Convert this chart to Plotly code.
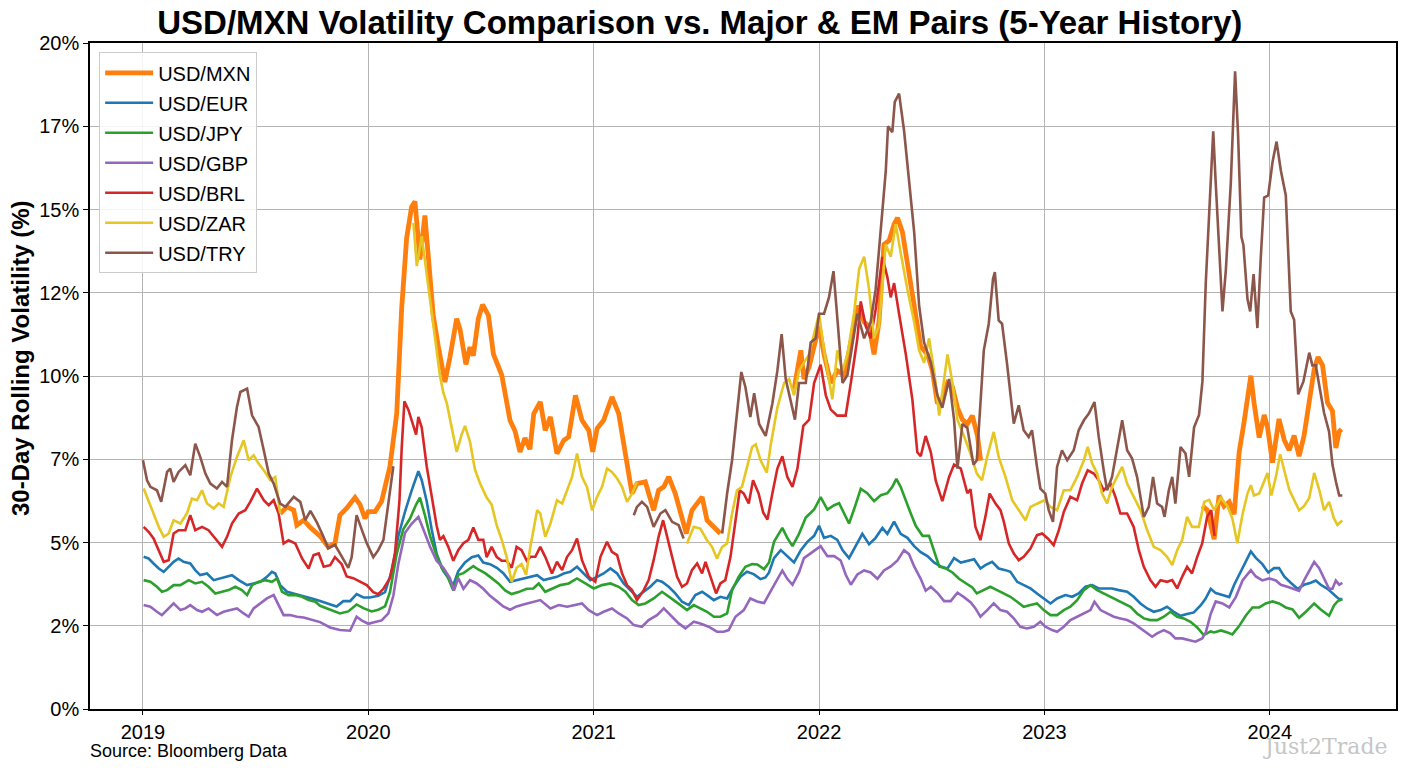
import plotly.graph_objects as go

N = None  # gap marker

# ---------------- data (decimal years, volatility %) ----------------
mxn_t = [2019.609, 2019.639, 2019.669, 2019.683, 2019.713, 2019.743, 2019.786, 2019.822, 2019.852, 2019.874,
         2019.904, 2019.941, 2019.963, 2019.985, 2020.0, 2020.030, 2020.059, 2020.096, 2020.126, 2020.148,
         2020.170, 2020.192, 2020.207, 2020.229, 2020.251, 2020.266, 2020.288, 2020.311, 2020.340, 2020.362,
         2020.392, 2020.407, 2020.433, 2020.451, 2020.466, 2020.488, 2020.507, 2020.533, 2020.555, 2020.592,
         2020.629, 2020.651, 2020.673, 2020.695, 2020.717, 2020.734, 2020.763, 2020.785, 2020.808, 2020.837,
         2020.867, 2020.889, 2020.919, 2020.948, 2020.978, 2020.996, 2021.015, 2021.044, 2021.081, 2021.111,
         2021.141, 2021.170, 2021.192, 2021.229, 2021.266, 2021.288, 2021.311, 2021.333, 2021.362, 2021.385,
         2021.411, 2021.436, 2021.459, 2021.481, 2021.503, 2021.533, 2021.562,
         2021.70,
         2021.889, 2021.904, 2021.919, 2021.933, 2021.956, 2021.978, 2022.0, 2022.022, 2022.052, 2022.081,
         2022.111, 2022.141, 2022.170, 2022.2, 2022.222, 2022.244, 2022.266, 2022.288, 2022.311, 2022.333,
         2022.348, 2022.370, 2022.399, 2022.429, 2022.451, 2022.481, 2022.503, 2022.525, 2022.547, 2022.570,
         2022.592, 2022.614, 2022.636, 2022.658, 2022.680, 2022.703, 2022.717,
         2023.2,
         2023.700, 2023.723, 2023.753, 2023.775, 2023.797, 2023.820, 2023.842, 2023.864, 2023.885, 2023.916,
         2023.930, 2023.953, 2023.975, 2023.990, 2024.012, 2024.041, 2024.064, 2024.086, 2024.108, 2024.130,
         2024.152, 2024.175, 2024.197, 2024.214, 2024.234, 2024.256, 2024.278, 2024.293, 2024.308, 2024.318]
mxn_v = [5.87, 6.07, 5.97, 5.52, 5.67, 5.45, 5.19, 4.87, 4.98, 5.82,
         6.03, 6.35, 6.14, 5.72, 5.93, 5.93, 6.24, 7.29, 8.87, 12.03,
         14.14, 15.08, 15.24, 13.5, 14.82, 13.61, 11.82, 10.87, 9.82, 10.56,
         11.72, 11.4, 10.35, 10.87, 10.61, 11.72, 12.14, 11.82, 10.66, 10.03,
         8.66, 8.35, 7.72, 8.14, 7.8, 8.87, 9.22, 8.37, 8.77, 7.67,
         8.07, 8.17, 9.42, 8.67, 8.37, 7.72, 8.42, 8.67, 9.37, 8.87,
         7.67, 6.47, 6.77, 6.82, 5.97, 6.57, 6.67, 6.97, 6.47, 5.87,
         5.27, 5.97, 6.17, 6.37, 5.67, 5.47, 5.27,
         N,
         9.6, 10.3, 10.77, 9.91, 10.28, 10.89, 11.5, 10.65, 9.79, 10.16,
         10.03, 11.01, 12.11, 11.62, 11.5, 10.65, 11.62, 13.95, 14.07, 14.56,
         14.75, 14.32, 13.09, 11.87, 10.89, 10.65, 10.16, 9.18, 9.3, 9.79,
         9.67, 9.05, 8.69, 8.56, 8.81, 8.2, 7.46,
         N,
         6.1, 5.97, 5.1, 6.41, 6.09, 6.22, 5.85, 7.71, 8.58, 10.01,
         9.2, 8.15, 8.83, 8.46, 7.4, 8.71, 8.08, 7.77, 8.21, 7.59,
         8.21, 9.2, 10.2, 10.57, 10.32, 9.2, 8.95, 7.84, 8.33, 8.4]

eur_t = [2019.003, 2019.025, 2019.047, 2019.070, 2019.092, 2019.114, 2019.136, 2019.158, 2019.180, 2019.210,
         2019.232, 2019.254, 2019.284, 2019.314, 2019.343, 2019.373, 2019.395, 2019.425, 2019.462, 2019.491,
         2019.521, 2019.550, 2019.572, 2019.587, 2019.609, 2019.639, 2019.669, 2019.698, 2019.728, 2019.757,
         2019.786, 2019.830, 2019.859, 2019.889, 2019.919, 2019.948, 2019.978, 2020.007, 2020.044, 2020.074,
         2020.104, 2020.133, 2020.163, 2020.192, 2020.212, 2020.222, 2020.237, 2020.259, 2020.281, 2020.303,
         2020.333, 2020.355, 2020.377, 2020.399, 2020.429, 2020.459, 2020.488, 2020.510, 2020.540, 2020.570,
         2020.599, 2020.629, 2020.658, 2020.688, 2020.719, 2020.749, 2020.778, 2020.808, 2020.837, 2020.867,
         2020.896, 2020.926, 2020.956, 2020.985, 2021.015, 2021.044, 2021.074, 2021.104, 2021.133, 2021.163,
         2021.192, 2021.222, 2021.251, 2021.281, 2021.303, 2021.333, 2021.362, 2021.392, 2021.422, 2021.451,
         2021.481, 2021.503, 2021.533, 2021.562, 2021.592, 2021.621, 2021.651, 2021.680, 2021.710, 2021.740,
         2021.762, 2021.778, 2021.800, 2021.830, 2021.859, 2021.889, 2021.919, 2021.948, 2021.978, 2022.0,
         2022.022, 2022.052, 2022.081, 2022.104, 2022.133, 2022.163, 2022.192, 2022.222, 2022.251, 2022.281,
         2022.303, 2022.333, 2022.362, 2022.392, 2022.422, 2022.451, 2022.481, 2022.510, 2022.540, 2022.570,
         2022.599, 2022.629, 2022.658, 2022.688, 2022.716, 2022.738, 2022.768, 2022.797, 2022.827, 2022.849,
         2022.879, 2022.908, 2022.938, 2022.967, 2022.997, 2023.027, 2023.056, 2023.093, 2023.123, 2023.152,
         2023.182, 2023.212, 2023.241, 2023.271, 2023.300, 2023.330, 2023.367, 2023.396, 2023.426, 2023.456,
         2023.485, 2023.515, 2023.544, 2023.574, 2023.604, 2023.633, 2023.663, 2023.692, 2023.714, 2023.738,
         2023.760, 2023.790, 2023.820, 2023.842, 2023.864, 2023.886, 2023.916, 2023.938, 2023.967, 2023.993,
         2024.019, 2024.041, 2024.064, 2024.093, 2024.123, 2024.152, 2024.182, 2024.204, 2024.226, 2024.256,
         2024.285, 2024.308, 2024.322]
eur_v = [4.57, 4.52, 4.37, 4.22, 4.12, 4.27, 4.42, 4.52, 4.42, 4.37,
         4.17, 4.02, 4.07, 3.87, 3.92, 3.97, 4.02, 3.87, 3.72, 3.77,
         3.82, 3.97, 4.12, 4.07, 3.72, 3.52, 3.47, 3.42, 3.37, 3.3,
         3.24, 3.14, 3.08, 3.24, 3.24, 3.45, 3.35, 3.35, 3.4, 3.51,
         4.14, 5.19, 5.93, 6.56, 6.98, 7.14, 6.87, 6.24, 5.4, 4.66,
         4.14, 3.93, 3.72, 4.14, 4.4, 4.56, 4.61, 4.4, 4.35, 4.24,
         4.08, 3.82, 3.87, 3.93, 3.97, 4.02, 3.87, 3.92, 3.97, 4.07,
         4.12, 4.27, 4.07, 3.87, 3.97, 4.07, 4.22, 4.07, 3.77, 3.57,
         3.37, 3.52, 3.67, 3.87, 3.82, 3.67, 3.47, 3.22, 3.12, 3.42,
         3.52, 3.42, 3.27, 3.37, 3.32, 3.67, 3.97, 4.12, 4.05, 3.9,
         3.95, 4.1, 4.53, 4.77, 4.59, 4.4, 4.77, 5.02, 5.2, 5.5,
         5.14, 5.2, 5.08, 4.77, 4.53, 4.89, 5.26, 4.95, 5.14, 5.44,
         5.26, 5.63, 5.26, 5.14, 4.89, 4.71, 4.59, 4.4, 4.28, 4.22,
         4.53, 4.4, 4.46, 4.5, 4.22, 4.32, 4.42, 4.22, 4.17, 4.12,
         3.82, 3.72, 3.62, 3.47, 3.32, 3.17, 3.32, 3.42, 3.37, 3.47,
         3.67, 3.72, 3.62, 3.62, 3.62, 3.57, 3.52, 3.37, 3.17, 3.02,
         2.92, 2.97, 3.07, 2.92, 2.8, 2.85, 2.9, 3.1, 3.3, 3.61,
         3.48, 3.42, 3.36, 3.73, 4.04, 4.35, 4.73, 4.54, 4.35, 4.1,
         4.23, 4.23, 3.98, 3.79, 3.61, 3.73, 3.79, 3.86, 3.73, 3.61,
         3.42, 3.3, 3.3]

jpy_t = [2019.003, 2019.033, 2019.062, 2019.084, 2019.107, 2019.136, 2019.166, 2019.203, 2019.232, 2019.262,
         2019.291, 2019.321, 2019.351, 2019.380, 2019.410, 2019.439, 2019.462, 2019.484, 2019.513, 2019.543,
         2019.572, 2019.595, 2019.617, 2019.646, 2019.676, 2019.706, 2019.735, 2019.765, 2019.786, 2019.830,
         2019.874, 2019.911, 2019.948, 2019.978, 2020.015, 2020.044, 2020.074, 2020.096, 2020.126, 2020.155,
         2020.185, 2020.212, 2020.229, 2020.251, 2020.274, 2020.300, 2020.325, 2020.348, 2020.377, 2020.399,
         2020.422, 2020.444, 2020.466, 2020.488, 2020.518, 2020.547, 2020.577, 2020.607, 2020.636, 2020.666,
         2020.703, 2020.732, 2020.756, 2020.785, 2020.815, 2020.852, 2020.889, 2020.926, 2020.963, 2021.0,
         2021.037, 2021.074, 2021.111, 2021.141, 2021.170, 2021.200, 2021.229, 2021.266, 2021.303, 2021.325,
         2021.355, 2021.385, 2021.414, 2021.444, 2021.473, 2021.503, 2021.533, 2021.562, 2021.592, 2021.614,
         2021.643, 2021.673, 2021.703, 2021.726, 2021.756, 2021.778, 2021.800, 2021.837, 2021.859, 2021.882,
         2021.911, 2021.941, 2021.978, 2022.007, 2022.037, 2022.067, 2022.089, 2022.111, 2022.133, 2022.155,
         2022.185, 2022.214, 2022.244, 2022.274, 2022.303, 2022.325, 2022.343, 2022.362, 2022.385, 2022.407,
         2022.429, 2022.459, 2022.488, 2022.510, 2022.533, 2022.562, 2022.592, 2022.621, 2022.651, 2022.680,
         2022.70, 2022.731, 2022.760, 2022.790, 2022.820, 2022.849, 2022.879, 2022.908, 2022.938, 2022.967,
         2022.997, 2023.027, 2023.056, 2023.086, 2023.115, 2023.145, 2023.175, 2023.204, 2023.234, 2023.263,
         2023.293, 2023.322, 2023.352, 2023.382, 2023.411, 2023.441, 2023.470, 2023.500, 2023.530, 2023.559,
         2023.589, 2023.618, 2023.648, 2023.678, 2023.707, 2023.737, 2023.753, 2023.783, 2023.812, 2023.834,
         2023.864, 2023.893, 2023.923, 2023.953, 2023.982, 2024.012, 2024.041, 2024.071, 2024.101, 2024.130,
         2024.160, 2024.197, 2024.226, 2024.263, 2024.285, 2024.300, 2024.322]
jpy_v = [3.87, 3.82, 3.67, 3.52, 3.57, 3.72, 3.72, 3.87, 3.77, 3.82,
         3.67, 3.47, 3.52, 3.57, 3.67, 3.57, 3.42, 3.72, 3.82, 3.87,
         3.82, 3.92, 3.52, 3.42, 3.42, 3.37, 3.27, 3.22, 3.1, 2.98,
         2.87, 2.93, 3.14, 3.03, 2.93, 2.98, 3.08, 3.51, 4.66, 5.4,
         5.72, 6.14, 6.35, 5.82, 5.19, 4.66, 4.24, 4.03, 3.56, 4.03,
         4.08, 4.19, 4.29, 4.19, 4.08, 3.93, 3.77, 3.56, 3.45, 3.51,
         3.61, 3.62, 3.77, 3.52, 3.62, 3.72, 3.77, 3.92, 3.77, 3.62,
         3.72, 3.77, 3.67, 3.52, 3.27, 3.12, 3.17, 3.32, 3.52, 3.42,
         3.27, 3.12, 2.97, 3.12, 3.02, 2.92, 2.77, 2.77, 2.87, 3.57,
         3.97, 4.27, 4.35, 4.34, 4.2, 4.4, 5.02, 5.44, 5.14, 4.89,
         5.26, 5.75, 5.99, 6.36, 5.99, 6.12, 6.18, 5.87, 5.57, 5.99,
         6.61, 6.48, 6.24, 6.42, 6.48, 6.67, 6.91, 6.67, 6.24, 5.87,
         5.5, 5.2, 5.2, 4.77, 4.28, 4.22, 4.1, 3.91, 3.79, 3.65,
         3.47, 3.57, 3.67, 3.57, 3.47, 3.37, 3.22, 3.07, 3.12, 3.17,
         2.97, 2.82, 2.82, 2.97, 3.07, 3.27, 3.57, 3.72, 3.57, 3.47,
         3.37, 3.27, 3.17, 3.07, 2.87, 2.72, 2.67, 2.67, 2.77, 2.92,
         2.77, 2.72, 2.62, 2.45, 2.22, 2.33, 2.3, 2.36, 2.3, 2.24,
         2.49, 2.8, 3.05, 3.05, 3.17, 3.23, 3.17, 3.05, 2.99, 2.74,
         2.92, 3.17, 2.99, 2.8, 3.11, 3.23, 3.3]

gbp_t = [2019.003, 2019.033, 2019.062, 2019.084, 2019.114, 2019.136, 2019.166, 2019.188, 2019.210, 2019.240,
         2019.262, 2019.291, 2019.328, 2019.358, 2019.388, 2019.417, 2019.447, 2019.469, 2019.491, 2019.521,
         2019.550, 2019.580, 2019.602, 2019.624, 2019.654, 2019.683, 2019.713, 2019.743, 2019.786, 2019.830,
         2019.874, 2019.919, 2019.948, 2019.970, 2020.0, 2020.030, 2020.059, 2020.089, 2020.111, 2020.133,
         2020.163, 2020.192, 2020.222, 2020.244, 2020.274, 2020.303, 2020.333, 2020.362, 2020.380, 2020.399,
         2020.422, 2020.451, 2020.481, 2020.510, 2020.540, 2020.570, 2020.599, 2020.629, 2020.658, 2020.688,
         2020.719, 2020.763, 2020.808, 2020.845, 2020.882, 2020.919, 2020.948, 2020.978, 2021.015, 2021.044,
         2021.081, 2021.111, 2021.148, 2021.178, 2021.214, 2021.244, 2021.281, 2021.311, 2021.340, 2021.377,
         2021.407, 2021.444, 2021.473, 2021.510, 2021.547, 2021.577, 2021.599, 2021.629, 2021.666, 2021.695,
         2021.725, 2021.756, 2021.786, 2021.815, 2021.837, 2021.859, 2021.882, 2021.911, 2021.933, 2021.970,
         2022.007, 2022.037, 2022.067, 2022.096, 2022.118, 2022.141, 2022.170, 2022.200, 2022.229, 2022.259,
         2022.288, 2022.318, 2022.348, 2022.377, 2022.399, 2022.422, 2022.451, 2022.473, 2022.496, 2022.525,
         2022.555, 2022.584, 2022.614, 2022.643, 2022.673, 2022.694, 2022.716, 2022.746, 2022.775, 2022.805,
         2022.834, 2022.864, 2022.893, 2022.923, 2022.953, 2022.982, 2023.004, 2023.034, 2023.056, 2023.086,
         2023.115, 2023.145, 2023.175, 2023.204, 2023.222, 2023.249, 2023.278, 2023.308, 2023.337, 2023.367,
         2023.396, 2023.426, 2023.456, 2023.478, 2023.500, 2023.530, 2023.559, 2023.581, 2023.611, 2023.641,
         2023.670, 2023.700, 2023.716, 2023.738, 2023.760, 2023.790, 2023.820, 2023.849, 2023.879, 2023.916,
         2023.938, 2023.967, 2023.997, 2024.027, 2024.049, 2024.078, 2024.108, 2024.130, 2024.152, 2024.175,
         2024.197, 2024.219, 2024.241, 2024.263, 2024.278, 2024.293, 2024.308, 2024.322]
gbp_v = [3.12, 3.07, 2.92, 2.82, 3.02, 3.17, 2.97, 3.02, 3.12, 2.97,
         2.92, 3.02, 2.82, 2.92, 2.97, 3.02, 2.87, 2.77, 3.02, 3.17,
         3.32, 3.42, 3.12, 2.82, 2.82, 2.77, 2.75, 2.7, 2.61, 2.45,
         2.37, 2.35, 2.77, 2.66, 2.56, 2.61, 2.66, 2.87, 3.4, 4.35,
         5.29, 5.56, 5.77, 5.4, 4.87, 4.45, 4.24, 3.93, 3.56, 3.93,
         3.61, 3.87, 3.77, 3.61, 3.4, 3.24, 3.08, 2.98, 3.08, 3.14,
         3.2, 3.27, 3.02, 3.12, 3.07, 3.12, 3.17, 2.97, 2.82, 2.92,
         3.02, 2.87, 2.72, 2.52, 2.47, 2.67, 2.82, 3.02, 2.82, 2.57,
         2.42, 2.62, 2.57, 2.47, 2.32, 2.32, 2.37, 2.77, 2.97, 3.32,
         3.23, 3.18, 3.55, 3.91, 4.16, 3.91, 3.73, 4.1, 4.53, 4.71,
         4.89, 4.59, 4.59, 4.46, 4.04, 3.73, 4.04, 4.16, 4.1, 3.91,
         4.16, 4.28, 4.46, 4.77, 4.65, 4.28, 3.91, 3.55, 3.67, 3.49,
         3.24, 3.24, 3.49, 3.36, 3.2, 3.02, 2.77, 2.97, 3.17, 2.97,
         2.92, 2.72, 2.47, 2.42, 2.47, 2.62, 2.47, 2.37, 2.32, 2.47,
         2.67, 2.77, 2.87, 2.97, 3.22, 2.97, 2.87, 2.77, 2.72, 2.67,
         2.57, 2.42, 2.27, 2.17, 2.27, 2.37, 2.27, 2.12, 2.12, 2.07,
         2.02, 2.12, 2.3, 2.86, 3.23, 3.17, 3.05, 3.36, 3.86, 4.17,
         3.98, 3.86, 3.92, 3.86, 3.73, 3.67, 3.61, 3.55, 3.86, 4.17,
         4.42, 4.23, 3.92, 3.61, 3.61, 3.86, 3.73, 3.79]

brl_t = [2019.003, 2019.025, 2019.047, 2019.070, 2019.092, 2019.114, 2019.136, 2019.158, 2019.188, 2019.210,
         2019.232, 2019.262, 2019.291, 2019.321, 2019.351, 2019.373, 2019.395, 2019.425, 2019.454, 2019.476,
         2019.506, 2019.536, 2019.558, 2019.580, 2019.602, 2019.624, 2019.646, 2019.676, 2019.706, 2019.735,
         2019.757, 2019.780, 2019.802, 2019.831, 2019.852, 2019.882, 2019.904, 2019.933, 2019.963, 2019.993,
         2020.022, 2020.044, 2020.067, 2020.096, 2020.118, 2020.138, 2020.148, 2020.160, 2020.178, 2020.200,
         2020.212, 2020.222, 2020.237, 2020.259, 2020.281, 2020.303, 2020.318, 2020.333, 2020.355, 2020.377,
         2020.399, 2020.422, 2020.444, 2020.466, 2020.488, 2020.510, 2020.525, 2020.547, 2020.570, 2020.592,
         2020.614, 2020.636, 2020.658, 2020.680, 2020.703, 2020.719, 2020.741, 2020.763, 2020.785, 2020.815,
         2020.837, 2020.860, 2020.882, 2020.904, 2020.926, 2020.948, 2020.978, 2021.007, 2021.030, 2021.059,
         2021.081, 2021.104, 2021.126, 2021.148, 2021.170, 2021.192, 2021.222, 2021.244, 2021.266, 2021.288,
         2021.308, 2021.325, 2021.348, 2021.370, 2021.392, 2021.414, 2021.436, 2021.459, 2021.481, 2021.496,
         2021.525, 2021.543, 2021.562, 2021.584, 2021.607, 2021.629, 2021.648, 2021.666, 2021.688, 2021.707,
         2021.732, 2021.752, 2021.771, 2021.793, 2021.815, 2021.837, 2021.859, 2021.882, 2021.904, 2021.930,
         2021.956, 2021.978, 2022.007, 2022.030, 2022.052, 2022.081, 2022.118, 2022.141, 2022.170, 2022.185,
         2022.207, 2022.229, 2022.251, 2022.281, 2022.303, 2022.318, 2022.333, 2022.355, 2022.385, 2022.414,
         2022.436, 2022.451, 2022.473, 2022.496, 2022.518, 2022.547, 2022.577, 2022.599, 2022.629, 2022.658,
         2022.672, 2022.694, 2022.716, 2022.738, 2022.757, 2022.783, 2022.805, 2022.820, 2022.842, 2022.864,
         2022.886, 2022.908, 2022.938, 2022.967, 2022.990, 2023.015, 2023.041, 2023.064, 2023.086, 2023.115,
         2023.145, 2023.167, 2023.192, 2023.219, 2023.241, 2023.263, 2023.293, 2023.315, 2023.337, 2023.367,
         2023.396, 2023.419, 2023.441, 2023.470, 2023.493, 2023.515, 2023.544, 2023.567, 2023.589, 2023.611,
         2023.633, 2023.655, 2023.678, 2023.700, 2023.722, 2023.740, 2023.755]
brl_v = [5.47, 5.32, 5.12, 4.77, 4.42, 4.47, 5.27, 5.37, 5.37, 5.82,
         5.37, 5.47, 5.37, 5.12, 4.87, 5.17, 5.57, 5.87, 5.97, 6.22,
         6.62, 6.27, 6.12, 6.27, 5.87, 4.97, 5.07, 4.97, 4.52, 4.22,
         4.62, 4.67, 4.27, 4.32, 4.56, 4.35, 3.98, 3.93, 3.82, 3.72,
         3.51, 3.45, 3.61, 3.93, 4.66, 6.24, 7.82, 9.24, 8.98, 8.45,
         8.24, 8.77, 8.45, 7.29, 6.35, 5.51, 5.08, 5.19, 4.87, 4.45,
         4.77, 4.98, 5.08, 5.45, 5.08, 5.08, 4.56, 4.87, 4.56, 4.45,
         4.45, 4.24, 4.87, 4.77, 4.45, 4.57, 4.57, 4.87, 4.57, 4.07,
         4.42, 4.17, 4.57, 4.77, 5.12, 4.47, 3.97, 3.82, 4.57, 5.02,
         4.72, 4.62, 4.07, 3.72, 3.57, 3.27, 3.57, 3.87, 4.47, 5.17,
         5.67, 5.17, 4.57, 3.97, 3.67, 3.77, 4.17, 4.37, 4.07, 4.42,
         3.87, 3.47, 3.77, 3.87, 4.57, 5.67, 6.57, 6.47, 6.17, 6.87,
         6.47, 5.9, 5.69, 6.48, 7.22, 7.59, 6.97, 6.67, 7.22, 8.5,
         8.69, 9.79, 10.34, 9.42, 8.99, 8.81, 8.81, 9.79, 11.13, 12.24,
         11.5, 11.13, 11.99, 13.58, 12.97, 12.36, 12.79, 11.87, 10.65, 9.3,
         7.71, 7.59, 8.2, 7.71, 6.85, 6.24, 6.97, 7.34, 7.22, 6.48,
         6.6, 5.47, 5.07, 5.77, 6.47, 6.17, 5.97, 5.62, 4.97, 4.67,
         4.47, 4.57, 4.82, 5.22, 5.27, 5.12, 4.92, 5.37, 5.92, 6.37,
         6.27, 6.77, 7.17, 7.07, 6.87, 6.57, 6.77, 6.37, 5.87, 5.87,
         5.47, 4.77, 4.27, 3.87, 3.67, 3.87, 3.82, 3.87, 3.62, 3.97,
         4.27, 4.07, 4.57, 4.97, 5.77, 5.97, 5.2]

zar_t = [2019.003, 2019.025, 2019.047, 2019.070, 2019.092, 2019.114, 2019.136, 2019.166, 2019.195, 2019.217,
         2019.240, 2019.262, 2019.284, 2019.314, 2019.336, 2019.358, 2019.388, 2019.417, 2019.447, 2019.469,
         2019.491, 2019.513, 2019.536, 2019.565, 2019.587, 2019.609,
         2019.9,
         2020.200, 2020.215, 2020.237, 2020.260, 2020.290, 2020.318, 2020.333, 2020.348, 2020.370, 2020.392,
         2020.414, 2020.429, 2020.451, 2020.473, 2020.496, 2020.525, 2020.547, 2020.570, 2020.592, 2020.614,
         2020.636, 2020.658, 2020.680, 2020.700, 2020.719, 2020.749, 2020.763, 2020.785, 2020.808, 2020.837,
         2020.860, 2020.882, 2020.904, 2020.926, 2020.948, 2020.970, 2020.993, 2021.015, 2021.037, 2021.059,
         2021.081, 2021.104, 2021.126, 2021.148, 2021.170, 2021.192,
         2021.30,
         2021.414, 2021.444, 2021.473, 2021.503, 2021.525, 2021.547, 2021.570, 2021.592, 2021.614, 2021.636,
         2021.658, 2021.680, 2021.703, 2021.719, 2021.741, 2021.768, 2021.786, 2021.815, 2021.845, 2021.867,
         2021.889, 2021.911, 2021.933, 2021.956, 2021.978, 2022.0, 2022.022, 2022.044, 2022.059, 2022.081,
         2022.104, 2022.126, 2022.155, 2022.178, 2022.2, 2022.222, 2022.244, 2022.266, 2022.296, 2022.318,
         2022.340, 2022.362, 2022.392, 2022.422, 2022.444, 2022.466, 2022.488, 2022.510, 2022.533, 2022.555,
         2022.570, 2022.592, 2022.614, 2022.643, 2022.673, 2022.70, 2022.723, 2022.746, 2022.775, 2022.797,
         2022.827, 2022.857, 2022.886, 2022.916, 2022.938, 2022.967, 2023.0, 2023.027, 2023.056, 2023.086,
         2023.115, 2023.145, 2023.175, 2023.192, 2023.212, 2023.234, 2023.256, 2023.278, 2023.300, 2023.322,
         2023.345, 2023.367, 2023.396, 2023.426, 2023.456, 2023.485, 2023.515, 2023.544, 2023.567, 2023.589,
         2023.611, 2023.633, 2023.655, 2023.685, 2023.709, 2023.731, 2023.753, 2023.783, 2023.812, 2023.834,
         2023.856, 2023.879, 2023.901, 2023.916, 2023.930, 2023.953, 2023.975, 2023.990, 2024.007, 2024.027,
         2024.046, 2024.064, 2024.086, 2024.108, 2024.130, 2024.152, 2024.175, 2024.197, 2024.219, 2024.241,
         2024.263, 2024.285, 2024.300, 2024.322]
zar_v = [6.62, 6.27, 5.87, 5.47, 5.17, 5.27, 5.67, 5.57, 5.87, 6.32,
         6.27, 6.57, 6.17, 6.02, 6.17, 6.07, 6.97, 7.57, 8.07, 7.47,
         7.62, 7.37, 7.17, 6.87, 6.97, 5.87,
         N,
         14.6, 13.3, 14.2, 13.0, 11.3, 10.0, 9.5, 9.19, 8.45, 7.72,
         8.24, 8.5, 8.03, 7.19, 6.77, 6.35, 6.14, 5.51, 5.08, 4.56,
         3.82, 4.24, 4.35, 4.03, 4.87, 5.97, 5.87, 5.17, 5.57, 6.27,
         6.17, 6.57, 6.97, 7.67, 6.97, 6.67, 5.97, 6.37, 6.67, 7.22,
         7.12, 6.92, 6.67, 6.22, 6.47, 6.82,
         N,
         4.97, 5.47, 5.42, 5.07, 4.87, 4.52, 4.87, 4.97, 5.87, 6.57,
         6.67, 7.27, 7.87, 7.95, 7.46, 7.1, 7.95, 9.05, 9.79, 9.91,
         9.42, 10.16, 10.4, 10.65, 11.26, 11.87, 10.77, 9.91, 9.3, 10.77,
         10.16, 10.65, 11.87, 13.22, 13.58, 12.6, 11.13, 11.5, 13.95, 13.58,
         14.56, 13.71, 12.6, 11.62, 10.77, 10.4, 11.13, 10.16, 8.81, 9.91,
         10.65, 9.79, 8.69, 8.2, 7.65, 7.07, 6.87, 7.57, 8.32, 7.57,
         6.97, 6.27, 5.97, 5.67, 6.07, 6.17, 6.27, 6.07, 5.97, 6.57,
         6.57, 6.97, 7.47, 7.87, 7.37, 7.07, 6.47, 6.17, 6.67, 6.97,
         7.27, 6.77, 6.37, 5.97, 5.37, 4.87, 4.77, 4.57, 4.32, 4.77,
         5.07, 5.77, 5.47, 5.47, 6.22, 6.28, 5.97, 6.34, 6.09, 5.72,
         4.98, 5.85, 6.47, 6.72, 6.41, 6.47, 6.84, 7.09, 6.41, 6.97,
         7.65, 7.21, 6.59, 6.28, 5.97, 6.09, 6.34, 7.09, 6.59, 5.97,
         6.22, 5.72, 5.53, 5.66]

try_t = [2019.0, 2019.018, 2019.033, 2019.062, 2019.081, 2019.107, 2019.121, 2019.136, 2019.158, 2019.188,
         2019.210, 2019.232, 2019.254, 2019.277, 2019.299, 2019.328, 2019.351, 2019.373, 2019.395, 2019.417,
         2019.432, 2019.462, 2019.484, 2019.513, 2019.536, 2019.558, 2019.580, 2019.609, 2019.632, 2019.669,
         2019.698, 2019.720, 2019.743, 2019.771, 2019.800, 2019.822, 2019.852, 2019.882, 2019.911, 2019.926,
         2019.948, 2019.970, 2019.993, 2020.022, 2020.044, 2020.067, 2020.089, 2020.111,
         2020.6,
         2021.178, 2021.192, 2021.214, 2021.237, 2021.266, 2021.296, 2021.318, 2021.348, 2021.377, 2021.399,
         2021.48,
         2021.570, 2021.592, 2021.614, 2021.636, 2021.655, 2021.673, 2021.695, 2021.712, 2021.734, 2021.763,
         2021.793, 2021.815, 2021.834, 2021.852, 2021.874, 2021.893, 2021.911, 2021.941, 2021.963, 2021.985,
         2022.0, 2022.022, 2022.044, 2022.064, 2022.084, 2022.104, 2022.126, 2022.148, 2022.170, 2022.2,
         2022.229, 2022.251, 2022.274, 2022.296, 2022.306, 2022.325, 2022.336, 2022.355, 2022.377, 2022.399,
         2022.422, 2022.444, 2022.466, 2022.496, 2022.525, 2022.547, 2022.577, 2022.599, 2022.614, 2022.636,
         2022.658, 2022.685, 2022.70, 2022.731, 2022.753, 2022.772, 2022.780, 2022.797, 2022.812, 2022.834,
         2022.864, 2022.886, 2022.908, 2022.930, 2022.945, 2022.967, 2022.982, 2023.004, 2023.019, 2023.038,
         2023.056, 2023.078, 2023.101, 2023.130, 2023.152, 2023.175, 2023.197, 2023.222, 2023.241, 2023.263,
         2023.278, 2023.300, 2023.322, 2023.345, 2023.367, 2023.389, 2023.411, 2023.441, 2023.463, 2023.482,
         2023.500, 2023.522, 2023.533, 2023.552, 2023.567, 2023.581, 2023.604, 2023.626, 2023.642, 2023.664,
         2023.686, 2023.701, 2023.716, 2023.731, 2023.749, 2023.760, 2023.775, 2023.790, 2023.805, 2023.827,
         2023.846, 2023.859, 2023.874, 2023.883, 2023.901, 2023.913, 2023.928, 2023.945, 2023.960, 2023.975,
         2023.993, 2024.012, 2024.030, 2024.049, 2024.071, 2024.093, 2024.108, 2024.126, 2024.149, 2024.175,
         2024.189, 2024.204, 2024.223, 2024.241, 2024.263, 2024.278, 2024.293, 2024.308, 2024.322]
try_v = [7.47, 6.87, 6.67, 6.57, 6.22, 7.12, 7.22, 6.82, 7.12, 7.32,
         7.02, 7.97, 7.57, 7.07, 6.77, 6.62, 6.82, 6.67, 8.07, 9.07,
         9.52, 9.62, 8.82, 8.47, 7.77, 7.07, 6.77, 6.17, 6.07, 6.37,
         6.22, 5.67, 5.95, 5.61, 5.19, 4.82, 4.93, 4.56, 4.24, 4.56,
         5.82, 5.4, 4.98, 4.56, 4.77, 5.08, 6.24, 7.29,
         N,
         5.82, 6.07, 6.22, 6.07, 5.47, 5.87, 5.97, 5.62, 5.52, 5.12,
         N,
         5.27, 6.47, 7.47, 8.87, 10.12, 9.67, 8.77, 9.48, 8.56, 8.2,
         9.18, 10.16, 11.26, 9.91, 9.3, 8.69, 9.79, 9.79, 11.01, 11.13,
         11.87, 11.87, 12.36, 13.15, 11.5, 9.79, 10.03, 10.89, 11.87, 11.13,
         11.62, 12.6, 14.32, 16.15, 17.5, 17.32, 18.23, 18.48, 17.38, 15.79,
         14.32, 12.11, 11.01, 10.4, 9.42, 9.05, 9.91, 8.69, 7.22, 8.56,
         8.44, 7.34, 7.47, 10.77, 11.57, 12.92, 13.12, 11.67, 11.57, 10.37,
         8.57, 9.12, 8.37, 8.17, 8.37, 7.27, 6.62, 6.47, 5.97, 5.62,
         7.27, 7.77, 7.47, 7.77, 8.37, 8.67, 8.87, 9.22, 8.17, 7.17,
         6.57, 6.97, 7.77, 8.67, 7.77, 7.52, 6.97, 5.77, 6.07, 6.97,
         6.17, 6.07, 5.77, 6.57, 6.97, 6.17, 7.87, 7.67, 6.97, 8.46,
         8.83, 9.83, 12.81, 15.05, 17.35, 15.8, 13.81, 11.94, 13.18, 15.8,
         19.15, 17.29, 14.18, 13.93, 12.31, 11.94, 13.06, 11.44, 13.56, 15.36,
         15.42, 16.42, 17.04, 16.17, 15.42, 11.94, 11.69, 9.45, 9.83, 10.7,
         10.32, 10.32, 9.58, 8.89, 8.33, 7.34, 6.84, 6.41, 6.41]

series_names = ["USD/MXN", "USD/EUR", "USD/JPY", "USD/GBP", "USD/BRL", "USD/ZAR", "USD/TRY"]
series_t = [mxn_t, eur_t, jpy_t, gbp_t, brl_t, zar_t, try_t]
series_v = [mxn_v, eur_v, jpy_v, gbp_v, brl_v, zar_v, try_v]
series_colors = ["#ff7f0e", "#1f77b4", "#2ca02c", "#9467bd", "#d62728", "#e5c623", "#8c564b"]
series_widths = [4.8, 2.6, 2.6, 2.6, 2.6, 2.6, 2.6]

year_ticks = [2019, 2020, 2021, 2022, 2023, 2024]
y_tickvals = [0, 2.5, 5, 7.5, 10, 12.5, 15, 17.5, 20]
y_ticktext = ["0%", "2%", "5%", "7%", "10%", "12%", "15%", "17%", "20%"]

FONT = "Liberation Sans, Arial, Helvetica, sans-serif"

fig = go.Figure()
for i, (name, t, v, c, w) in enumerate(zip(series_names, series_t, series_v, series_colors, series_widths)):
    fig.add_trace(go.Scatter(
        x=t, y=v, mode="lines", name=name,
        line=dict(color=c, width=w), connectgaps=False,
        legendgroup=name,
    ))

fig.update_layout(
    width=1408, height=768,
    margin=dict(l=90, r=12, t=43, b=59, autoexpand=False),
    paper_bgcolor="white", plot_bgcolor="white",
    font=dict(family=FONT, size=20, color="black"),
    title=dict(
        text="<b>USD/MXN Volatility Comparison vs. Major & EM Pairs (5-Year History)</b>",
        x=0.497, xref="container", xanchor="center",
        y=0.9714, yref="container", yanchor="middle",
        font=dict(size=33, family=FONT, color="black"),
    ),
    legend=dict(
        x=0.007, y=0.986, xanchor="left", yanchor="top",
        bgcolor="rgba(255,255,255,0.85)", bordercolor="#cccccc", borderwidth=1,
        font=dict(size=20, family=FONT), tracegroupgap=1,
        itemwidth=48,
    ),
    showlegend=True,
)

fig.update_xaxes(
    range=[2018.765, 2024.56], automargin=False,
    tickmode="array", tickvals=year_ticks, ticktext=[str(y) for y in year_ticks],
    showgrid=True, gridcolor="#b4b4b4", gridwidth=1,
    showline=True, linecolor="black", linewidth=1.5, mirror=True,
    ticks="outside", ticklen=4, tickcolor="black",
    zeroline=False, tickfont=dict(size=20),
)
fig.update_yaxes(
    range=[0, 20], automargin=False,
    tickmode="array", tickvals=y_tickvals, ticktext=y_ticktext,
    showgrid=True, gridcolor="#b4b4b4", gridwidth=1,
    showline=True, linecolor="black", linewidth=1.5, mirror=True,
    ticks="outside", ticklen=5, tickcolor="black",
    zeroline=False, tickfont=dict(size=20),
)

# y-axis title (placed as in the reference, slightly above the plot's centre)
fig.add_annotation(
    text="<b>30-Day Rolling Volatility (%)</b>", xref="paper", yref="paper",
    x=-0.0536, y=0.527, xanchor="center", yanchor="middle", textangle=-90,
    showarrow=False, font=dict(size=24, family=FONT, color="black"),
)
fig.add_annotation(
    text="Source: Bloomberg Data", xref="paper", yref="paper",
    x=-0.0015, y=-0.0635, xanchor="left", yanchor="middle",
    showarrow=False, font=dict(size=18, family=FONT, color="black"),
)
fig.add_annotation(
    text="Just2Trade", xref="paper", yref="paper",
    x=0.9954, y=-0.056, xanchor="right", yanchor="middle",
    showarrow=False, font=dict(size=22, family="DejaVu Serif, serif", color="#c6c6c6"),
)

# hide the mode bar and remove the browser's default 8px page margin
fig.write_html(
    "out.html",
    config={"displayModeBar": False},
    post_script="document.body.style.margin='0px';",
)
